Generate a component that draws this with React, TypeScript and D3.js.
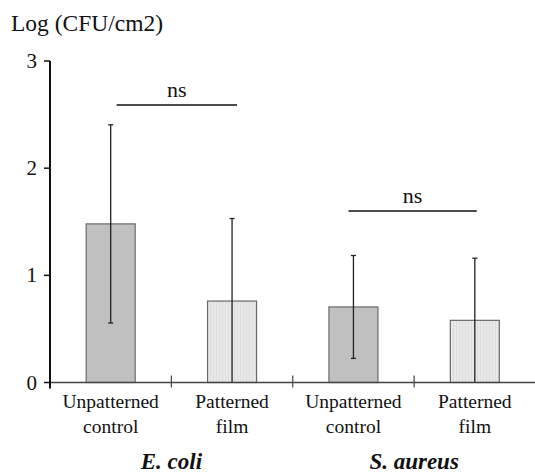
import React from "react";
import * as d3 from "d3";

const categories = ["Unpatterned control", "Patterned film", "Unpatterned control", "Patterned film"];
const means = [1.48, 0.76, 0.705, 0.58];
const sds = [0.925, 0.77, 0.48, 0.58];
const barKinds = ["control", "film", "control", "film"];
const groups = ["E. coli", "S. aureus"];
const yTicks = [0, 1, 2, 3];
const sigLevels = [2.59, 1.6];
const sigLabels = ["ns", "ns"];

const W = 535;
const H = 473;

export default function App() {
  const x0 = 50;
  const x1 = 535;
  const y = d3.scaleLinear().domain([0, 3]).range([382.5, 61]);
  const x = d3.scaleBand<number>().domain(d3.range(categories.length)).range([x0, x1 + 0.5]).paddingInner(0).paddingOuter(0);
  const bw = x.bandwidth();
  const barW = 49;
  const font = "Liberation Serif, DejaVu Serif, serif";
  const cx = (i: number) => (x(i) as number) + bw / 2;

  return (
    <svg width={W} height={H} style={{ position: "absolute", left: 0, top: 0, fontFamily: font }}>
      <defs>
        <pattern id="stripes" width="3" height="4" patternUnits="userSpaceOnUse">
          <rect width="3" height="4" fill="#e8e8e8" />
          <rect width="1" height="4" fill="#dedede" />
        </pattern>
      </defs>
      <rect width={W} height={H} fill="#fff" />
      {/* y label */}
      <text x={11} y={31} fontSize={23.5} fill="#111" style={{ fontFamily: font }}>Log (CFU/cm2)</text>
      {/* bars */}
      {means.map((m, i) => (
        <rect
          key={"b" + i}
          x={cx(i) - barW / 2}
          y={y(m)}
          width={barW}
          height={y(0) - y(m)}
          fill={barKinds[i] === "control" ? "#c0c0c0" : "url(#stripes)"}
          stroke="#6a6a6a"
          strokeWidth={1.2}
        />
      ))}
      {/* error bars */}
      {means.map((m, i) => {
        const hi = m + sds[i];
        const lo = Math.max(0, m - sds[i]);
        return (
          <g key={"e" + i} stroke="#222" strokeWidth={1.3}>
            <line x1={cx(i)} x2={cx(i)} y1={y(hi)} y2={y(lo)} />
            <line x1={cx(i) - 2.5} x2={cx(i) + 2.5} y1={y(hi)} y2={y(hi)} />
            {m - sds[i] > 0 && <line x1={cx(i) - 2.5} x2={cx(i) + 2.5} y1={y(lo)} y2={y(lo)} />}
          </g>
        );
      })}
      {/* x axis */}
      <line x1={x0} x2={x1} y1={y(0)} y2={y(0)} stroke="#444" strokeWidth={1.5} />
      {d3.range(1, categories.length).map((i) => (
        <line key={"xt" + i} x1={x(i) as number} x2={x(i) as number} y1={y(0) - 7} y2={y(0) + 5} stroke="#444" strokeWidth={1.2} />
      ))}
      {/* y axis */}
      <line x1={x0} x2={x0} y1={y(3)} y2={y(0) + 6} stroke="#111" strokeWidth={2} />
      {yTicks.map((t) => (
        <g key={"yt" + t}>
          <line x1={x0 - 6} x2={x0} y1={y(t)} y2={y(t)} stroke="#111" strokeWidth={1.5} />
          <text x={x0 - 13} y={y(t) + 7} fontSize={21} textAnchor="end" fill="#111" style={{ fontFamily: font }}>{t}</text>
        </g>
      ))}
      {/* category labels */}
      {categories.map((c, i) => {
        const parts = c.split(" ");
        return (
          <text key={"c" + i} x={cx(i)} y={408} fontSize={19.5} textAnchor="middle" fill="#111" style={{ fontFamily: font }}>
            <tspan x={cx(i)} dy={0}>{parts[0]}</tspan>
            <tspan x={cx(i)} dy={24.5}>{parts[1]}</tspan>
          </text>
        );
      })}
      {/* group labels */}
      {groups.map((g, gi) => (
        <text key={"g" + gi} x={x(gi * 2 + 1) as number} y={469} fontSize={23} fontWeight="bold" fontStyle="italic" textAnchor="middle" fill="#111" style={{ fontFamily: font }}>
          {g}
        </text>
      ))}
      {/* significance */}
      {sigLevels.map((lv, gi) => {
        const a = cx(gi * 2) + (gi === 0 ? 6 : -5);
        const b = cx(gi * 2 + 1) + (gi === 0 ? 5 : 2);
        return (
          <g key={"s" + gi}>
            <line x1={a} x2={b} y1={y(lv)} y2={y(lv)} stroke="#111" strokeWidth={1.5} />
            <text x={(a + b) / 2} y={y(lv) - 8} fontSize={22} textAnchor="middle" fill="#111" style={{ fontFamily: font }}>{sigLabels[gi]}</text>
          </g>
        );
      })}
    </svg>
  );
}
